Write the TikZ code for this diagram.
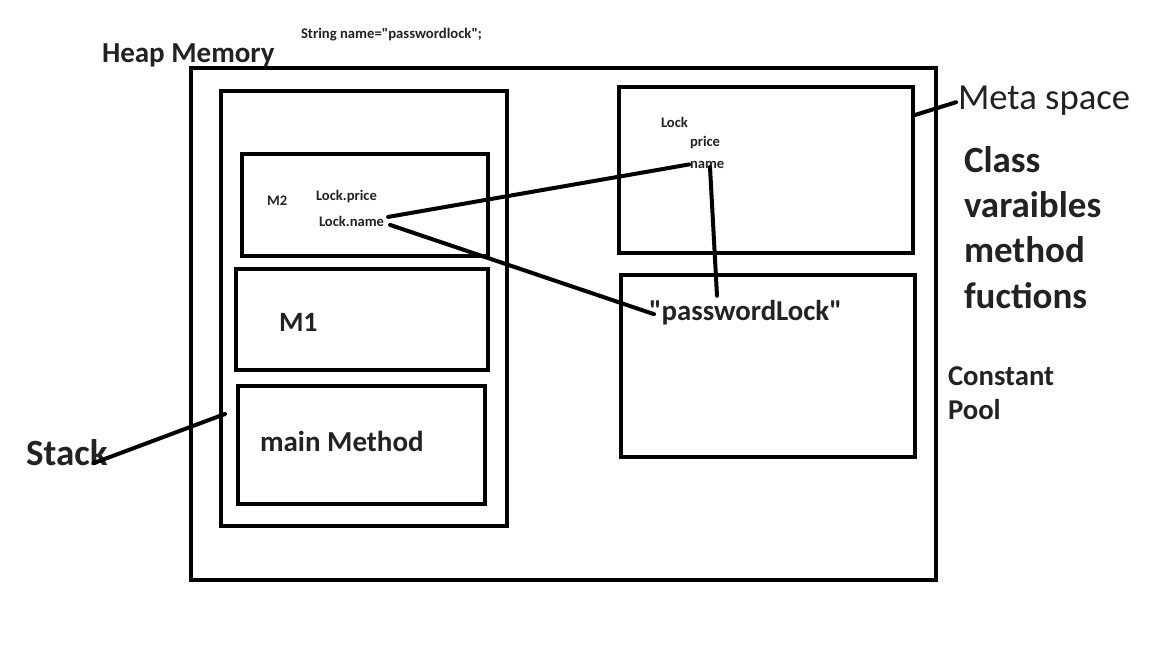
\documentclass[tikz,border=0pt]{standalone}
\usepackage{fontspec}
\setmainfont{Carlito}[Ligatures=TeXOff]
\definecolor{txt}{HTML}{222222}
\begin{document}
\begin{tikzpicture}[x=1pt,y=-1pt,
  box/.style={draw=black,line width=4.5pt,inner sep=0pt,outer sep=0pt,anchor=north west},
  lbl/.style={inner sep=0pt,outer sep=0pt,anchor=base west,text=txt,font=\bfseries},
  wire/.style={draw=black,line width=4pt,line cap=round}]
\useasboundingbox (0,0) rectangle (1152,648);
% boxes
\node[box,minimum width=745pt,minimum height=512pt] (heap) at (191,68) {};
\node[box,minimum width=286pt,minimum height=435pt] (stackbox) at (221,91) {};
\node[box,minimum width=246pt,minimum height=102pt] (m2box) at (242,154) {};
\node[box,minimum width=252pt,minimum height=101pt] (m1box) at (236,269) {};
\node[box,minimum width=247pt,minimum height=118pt] (mainbox) at (238,386) {};
\node[box,minimum width=294pt,minimum height=166pt] (meta) at (619,87) {};
\node[box,minimum width=294pt,minimum height=182pt] (pool) at (621,275) {};
% labels
\node[lbl,font=\bfseries\fontsize{14.7}{16}\selectfont] (strdecl) at (301,38) {String name="passwordlock";};
\node[lbl,font=\bfseries\fontsize{29}{32}\selectfont] (heaplbl) at (102,62) {Heap Memory};
\node[lbl,font=\fontsize{36.7}{40}\selectfont] (metalbl) at (958,109) {Meta space};
\node[lbl,font=\bfseries\fontsize{37}{40}\selectfont] (cls1) at (964,172) {Class};
\node[lbl,font=\bfseries\fontsize{37}{40}\selectfont] (cls2) at (964,217) {varaibles};
\node[lbl,font=\bfseries\fontsize{37}{40}\selectfont] (cls3) at (964,262) {method};
\node[lbl,font=\bfseries\fontsize{37}{40}\selectfont] (cls4) at (964,308) {fuctions};
\node[lbl,font=\bfseries\fontsize{28.7}{32}\selectfont] (cp1) at (948,385) {Constant};
\node[lbl,font=\bfseries\fontsize{28.7}{32}\selectfont] (cp2) at (948,419) {Pool};
\node[lbl,font=\bfseries\fontsize{37}{40}\selectfont] (stacklbl) at (26,465) {Stack};
\node[lbl,font=\bfseries\fontsize{14.6}{16}\selectfont] (m2) at (267,205) {M2};
\node[lbl,font=\bfseries\fontsize{14.6}{16}\selectfont] (lprice) at (316,200) {Lock.price};
\node[lbl,font=\bfseries\fontsize{14.6}{16}\selectfont] (lname) at (319,226) {Lock.name};
\node[lbl,font=\bfseries\fontsize{14.6}{16}\selectfont] (lock) at (661,127) {Lock};
\node[lbl,font=\bfseries\fontsize{14.6}{16}\selectfont] (price) at (690,146) {price};
\node[lbl,font=\bfseries\fontsize{14.6}{16}\selectfont] (name) at (690,168) {name};
\node[lbl,font=\bfseries\fontsize{28}{32}\selectfont] (m1) at (279,331) {M1};
\node[lbl,font=\bfseries\fontsize{29}{32}\selectfont] (mainm) at (260,451) {main Method};
\node[lbl,font=\bfseries\fontsize{28.8}{32}\selectfont] (pwd) at (649,320) {"passwordLock"};
% connectors
\draw[wire] ([shift={(4,-4)}]lname.east) -- ([shift={(-1,0)}]name.west);
\draw[wire] ([shift={(6,4)}]lname.east) -- ([shift={(5,2)}]pwd.west);
\draw[wire] ([shift={(20,-1)}]name.base west) -- ([shift={(68,-4)}]pwd.north west);
\draw[wire] ([shift={(2,28)}]meta.north east) -- ([shift={(-2,2)}]metalbl.west);
\draw[wire] ([shift={(-14,11)}]stacklbl.east) -- ([shift={(4,323)}]stackbox.north west);
\end{tikzpicture}
\end{document}
